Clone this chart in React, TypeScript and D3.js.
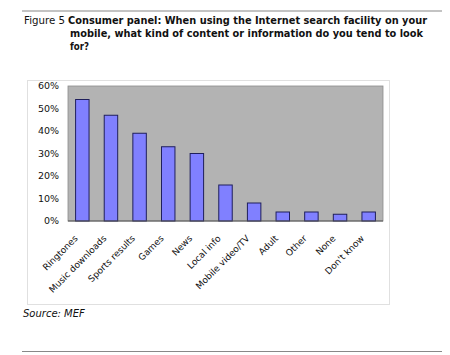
import React from "react";
import * as d3 from "d3";

const categories = ["Ringtones", "Music downloads", "Sports results", "Games", "News", "Local info", "Mobile video/TV", "Adult", "Other", "None", "Don't know"];
const values = [54, 47, 39, 33, 30, 16, 8, 4, 4, 3, 4];
const yTicks = [0, 10, 20, 30, 40, 50, 60];

const W = 450, H = 355;
const plot = { left: 68, top: 86, right: 383, bottom: 221 };
const font = "Verdana, 'DejaVu Sans', sans-serif";

export default function App() {
  const x = d3.scaleBand<string>().domain(categories).range([plot.left, plot.right]).paddingInner(0.53).paddingOuter(0.265);
  const y = d3.scaleLinear().domain([0, 60]).range([plot.bottom, plot.top]);
  return (
    <svg width={W} height={H} style={{ position: "absolute", left: 0, top: 0, background: "#fff" }} fontFamily={font}>
      <line x1={22} x2={442} y1={11} y2={11} stroke="#888" strokeWidth={1.2} />
      <text x={24} y={24} fontSize={10.2} fill="#111" textLength={41} lengthAdjust="spacingAndGlyphs">Figure 5</text>
      <text x={68} y={24} fontSize={9.8} fontWeight="bold" fill="#111" textLength={359} lengthAdjust="spacingAndGlyphs">Consumer panel: When using the Internet search facility on your</text>
      <text x={70} y={37} fontSize={9.8} fontWeight="bold" fill="#111" textLength={353} lengthAdjust="spacingAndGlyphs">mobile, what kind of content or information do you tend to look</text>
      <text x={70} y={50} fontSize={9.8} fontWeight="bold" fill="#111" textLength={19} lengthAdjust="spacingAndGlyphs">for?</text>
      <rect x={27.5} y={80.5} width={362} height={224} fill="#fff" stroke="#e0e0e0" />
      <rect x={plot.left} y={plot.top} width={plot.right - plot.left} height={plot.bottom - plot.top} fill="#b3b3b3" stroke="#8c8c8c" strokeWidth={0.8} />
      {yTicks.map(t => (
        <text key={t} x={59} y={y(t)} dy="0.35em" textAnchor="end" fontSize={9.5} fill="#111">{t}%</text>
      ))}
      {categories.map((c, i) => (
        <rect key={c} x={x(c)!} y={y(values[i])} width={x.bandwidth()} height={y(0) - y(values[i])} fill="#8080ff" stroke="#1f1f5c" strokeWidth={1} />
      ))}
      <line x1={plot.left} x2={plot.right} y1={plot.bottom} y2={plot.bottom} stroke="#555" strokeWidth={1} />
      {categories.map(c => {
        const cx = x(c)! + x.bandwidth() / 2 - 4;
        return (
          <text key={c} transform={`translate(${cx},${plot.bottom + 18}) rotate(-45)`} textAnchor="end" fontSize={9} fill="#111">{c}</text>
        );
      })}
      <text x={23} y={317} fontSize={10} fontStyle="italic" fill="#111">Source: MEF</text>
      <line x1={22} x2={442} y1={351.5} y2={351.5} stroke="#888" strokeWidth={1.2} />
    </svg>
  );
}
